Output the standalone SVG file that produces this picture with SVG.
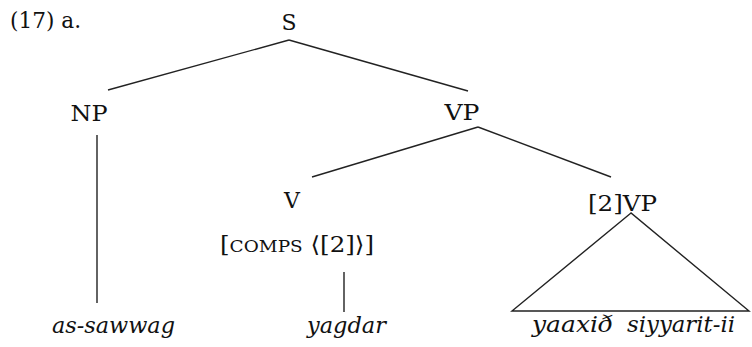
<svg xmlns="http://www.w3.org/2000/svg" width="752" height="347" viewBox="0 0 752 347">
<style>
text{font-family:"DejaVu Serif","Liberation Serif",serif;font-size:22px;fill:#111}
.it{font-style:italic}
.sc{font-size:16.5px}
.ln{stroke:#222;stroke-width:1.4;fill:none}
</style>
<rect width="752" height="347" fill="#fff"/>
<g id="label"><text x="10" y="28" textLength="71" lengthAdjust="spacingAndGlyphs">(17) a.</text></g>
<g id="S"><text x="289" y="30" text-anchor="middle">S</text></g>
<g id="NP"><text x="89" y="121" textLength="37" lengthAdjust="spacingAndGlyphs" text-anchor="middle">NP</text></g>
<g id="VP"><text x="462" y="120" textLength="35" lengthAdjust="spacingAndGlyphs" text-anchor="middle">VP</text></g>
<g id="V"><text x="292" y="208" text-anchor="middle">V</text></g>
<g id="COMPS"><text x="220" y="252" textLength="154" lengthAdjust="spacingAndGlyphs">[<tspan class="sc">COMPS</tspan> ⟨[2]⟩]</text></g>
<g id="VP2"><text x="588" y="211" textLength="69" lengthAdjust="spacingAndGlyphs">[2]VP</text></g>
<g id="w1"><text class="it" x="52" y="333" textLength="123" lengthAdjust="spacingAndGlyphs">as-sawwag</text></g>
<g id="w2"><text class="it" x="307" y="333" textLength="79" lengthAdjust="spacingAndGlyphs">yagdar</text></g>
<g id="w3"><text class="it" x="532" y="332" textLength="81" lengthAdjust="spacingAndGlyphs">yaaxið</text><text class="it" x="627" y="332" textLength="108" lengthAdjust="spacingAndGlyphs">siyyarit-ii</text></g>
<g id="connectors">
<line class="ln" x1="289" y1="40" x2="108" y2="90"/>
<line class="ln" x1="289" y1="40" x2="468" y2="91"/>
<line class="ln" x1="97" y1="135" x2="97" y2="303"/>
<line class="ln" x1="478" y1="127" x2="312" y2="177"/>
<line class="ln" x1="478" y1="127" x2="611" y2="177"/>
<line class="ln" x1="344" y1="272" x2="344" y2="312"/>
<polygon class="ln" points="631,213 512,311 749,311"/>
</g>
</svg>
